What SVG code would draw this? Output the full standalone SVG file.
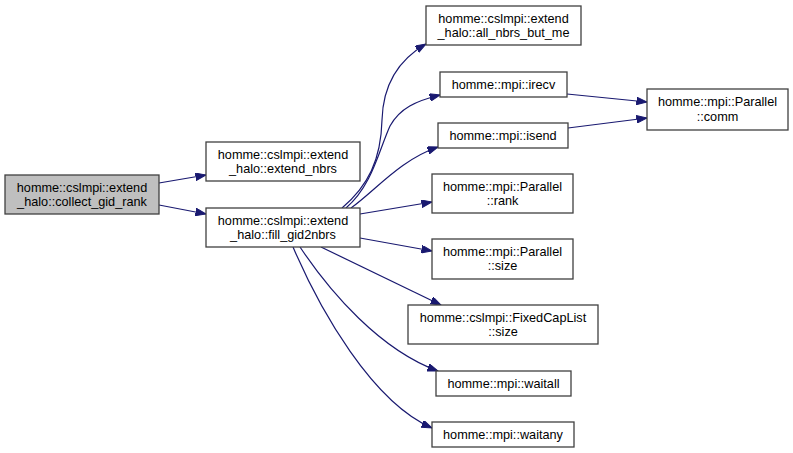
<svg xmlns="http://www.w3.org/2000/svg" width="793" height="453" viewBox="0 0 793 453">
<style>
.n rect{fill:#ffffff;stroke:#404040;stroke-width:1.3}
.n text{font-family:"Liberation Sans",Arial,sans-serif;font-size:12.7px;fill:#000;text-anchor:middle}
.e path{fill:none;stroke:#191970;stroke-width:1.2}
#n0 rect{fill:#bfbfbf}
</style>
<defs>
<marker id="a" markerUnits="userSpaceOnUse" markerWidth="11" markerHeight="8" refX="10.5" refY="3.8" orient="auto">
<path d="M0,0 L10.5,3.8 L0,7.6 z" fill="#191970" stroke="#191970" stroke-width="1"/>
</marker>
</defs>
<rect width="793" height="453" fill="#ffffff"/>
<g class="e">
<path d="M159,183 L206,175" marker-end="url(#a)"/>
<path d="M159,205 L206,214" marker-end="url(#a)"/>
<path d="M342,208 C368,186 381,160 382,120 C383,85 398,60 426,44" marker-end="url(#a)"/>
<path d="M346,208 C372,186 379,150 390,126 C400,108 416,101 440,95" marker-end="url(#a)"/>
<path d="M351,208 C376,190 400,160 438,147" marker-end="url(#a)"/>
<path d="M360,214 L432,202" marker-end="url(#a)"/>
<path d="M360,238 L432,251" marker-end="url(#a)"/>
<path d="M321,247 L441,305" marker-end="url(#a)"/>
<path d="M300,247 C330,292 380,350 438,371" marker-end="url(#a)"/>
<path d="M293,247 C320,310 372,402 432,428" marker-end="url(#a)"/>
<path d="M567,94 L647,102" marker-end="url(#a)"/>
<path d="M568,128 L647,118" marker-end="url(#a)"/>
</g>
<g class="n" id="n0"><rect x="5" y="175" width="154" height="39"/><text x="82" y="191.5">homme::cslmpi::extend</text><text x="82" y="206">_halo::collect_gid_rank</text></g>
<g class="n" id="n1"><rect x="206" y="142" width="154" height="39"/><text x="283" y="158.5">homme::cslmpi::extend</text><text x="283" y="173">_halo::extend_nbrs</text></g>
<g class="n" id="n2"><rect x="206" y="208" width="154" height="39"/><text x="283" y="224.5">homme::cslmpi::extend</text><text x="283" y="239">_halo::fill_gid2nbrs</text></g>
<g class="n" id="n3"><rect x="426" y="6" width="155" height="39"/><text x="503.5" y="22.5">homme::cslmpi::extend</text><text x="503.5" y="37">_halo::all_nbrs_but_me</text></g>
<g class="n" id="n4"><rect x="440" y="72" width="127" height="25"/><text x="503.5" y="88.5">homme::mpi::irecv</text></g>
<g class="n" id="n5"><rect x="438" y="123" width="130" height="25"/><text x="503" y="139.5">homme::mpi::isend</text></g>
<g class="n" id="n6"><rect x="432" y="174" width="141" height="39"/><text x="502.5" y="190.5">homme::mpi::Parallel</text><text x="502.5" y="205">::rank</text></g>
<g class="n" id="n7"><rect x="432" y="239" width="141" height="40"/><text x="502.5" y="255.5">homme::mpi::Parallel</text><text x="502.5" y="270">::size</text></g>
<g class="n" id="n8"><rect x="408" y="305" width="190" height="39"/><text x="503" y="321.5">homme::cslmpi::FixedCapList</text><text x="503" y="336">::size</text></g>
<g class="n" id="n9"><rect x="436" y="371" width="135" height="25"/><text x="503.5" y="387.5">homme::mpi::waitall</text></g>
<g class="n" id="n10"><rect x="432" y="422" width="142" height="25"/><text x="503" y="438.5">homme::mpi::waitany</text></g>
<g class="n" id="n11"><rect x="647" y="89" width="141" height="41"/><text x="717.5" y="106">homme::mpi::Parallel</text><text x="717.5" y="120.5">::comm</text></g>
</svg>
